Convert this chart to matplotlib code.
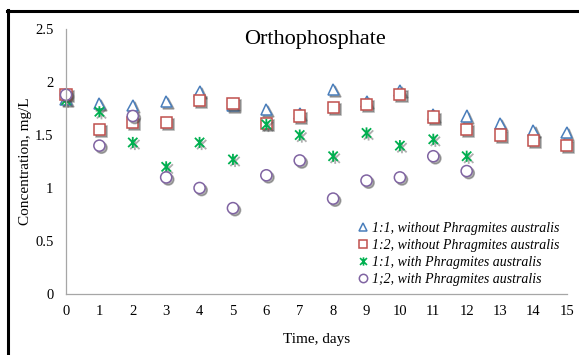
import numpy as np
import matplotlib
matplotlib.use('Agg')
import matplotlib.pyplot as plt
import matplotlib.patheffects as pe
from matplotlib.path import Path
from matplotlib.lines import Line2D

##Data
days = np.arange(0, 16)
tri_11_without = [1.84, 1.80, 1.78, 1.82, 1.91, 1.78, 1.74, 1.70, 1.93, 1.82, 1.92, 1.69, 1.68, 1.61, 1.54, 1.52]
sq_12_without = [1.88, 1.55, 1.62, 1.62, 1.83, 1.80, 1.61, 1.68, 1.76, 1.79, 1.88, 1.67, 1.55, 1.50, 1.45, 1.40]
days_with = np.arange(0, 13)
ast_11_with = [1.83, 1.72, 1.43, 1.20, 1.43, 1.27, 1.60, 1.50, 1.30, 1.52, 1.40, 1.46, 1.30]
circ_12_with = [1.88, 1.40, 1.68, 1.10, 1.00, 0.81, 1.12, 1.26, 0.90, 1.07, 1.10, 1.30, 1.16]

labels = ['1:1, without Phragmites australis',
          '1:2, without Phragmites australis',
          '1:1, with Phragmites australis',
          '1;2, with Phragmites australis']

plt.rcParams['font.family'] = ['Liberation Serif', 'DejaVu Serif']

#Asterisk marker: X with a vertical bar
ast = Path([(-1, -1), (1, 1), (-1, 1), (1, -1), (0, -1.2), (0, 1.2)],
           [Path.MOVETO, Path.LINETO, Path.MOVETO, Path.LINETO, Path.MOVETO, Path.LINETO])

shadow = [pe.SimplePatchShadow(offset=(1.5, -1.5), shadow_rgbFace='0.3', alpha=0.45),
          pe.SimpleLineShadow(offset=(1.5, -1.5), shadow_color='0.3', alpha=0.45),
          pe.Normal()]

fig = plt.figure(figsize=(5.79, 3.55), dpi=100)
ax = fig.add_axes([0.114, 0.172, 0.865, 0.746])

blue = '#4a7ebb'
red = '#c0504d'
green = '#00b050'
purple = '#8064a2'

ax.plot(days, tri_11_without, ls='none', marker='^', ms=8, mfc='white', mec=blue, mew=1.1,
        path_effects=shadow, label=labels[0])
ax.plot(days, sq_12_without, ls='none', marker='s', ms=8, mfc='white', mec=red, mew=1.1,
        path_effects=shadow, label=labels[1])
ax.plot(days_with, ast_11_with, ls='none', marker=ast, ms=8, color=green, mew=1.3,
        path_effects=shadow, label=labels[2])
ax.plot(days_with, circ_12_with, ls='none', marker='o', ms=8, mfc='white', mec=purple, mew=1.1,
        path_effects=shadow, label=labels[3])

ax.set_xlim(0, 15)
ax.set_ylim(0, 2.5)
ax.set_xticks(np.arange(0, 16))
ax.set_yticks([0, 0.5, 1, 1.5, 2, 2.5])
ax.set_yticklabels(['0', '0.5', '1', '1.5', '2', '2.5'])
ax.tick_params(length=0, labelsize=10.5)
ax.tick_params(axis='x', pad=8)
ax.tick_params(axis='y', pad=9)
for s in ['top', 'right']:
    ax.spines[s].set_visible(False)
for s in ['left', 'bottom']:
    ax.spines[s].set_color('#a6a6a6')
    ax.spines[s].set_linewidth(0.9)
for l in ax.lines:
    l.set_clip_on(False)

ax.text(7.45, 2.4, 'Orthophosphate', ha='center', va='center', fontsize=16)
ax.set_xlabel('Time, days', fontsize=11, labelpad=11)
ax.set_ylabel('Concentration, mg/L', fontsize=11, labelpad=2)

handles = [Line2D([], [], ls='none', marker='^', ms=6, mfc='white', mec=blue, mew=1.1),
           Line2D([], [], ls='none', marker='s', ms=6, mfc='white', mec=red, mew=1.1),
           Line2D([], [], ls='none', marker=ast, ms=6, color=green, mew=1.2),
           Line2D([], [], ls='none', marker='o', ms=6, mfc='white', mec=purple, mew=1.1)]
leg = ax.legend(handles, labels, loc='lower right', bbox_to_anchor=(1.0, 0.0), frameon=False,
                prop={'style': 'italic', 'size': 10}, handlelength=0.6, handletextpad=0.3,
                labelspacing=0.3, borderaxespad=0.15)

#Frame around the figure (left and top edges visible)
fig.add_artist(Line2D([0.014, 0.014], [0.0, 0.972], color='black', lw=2.2, transform=fig.transFigure))
fig.add_artist(Line2D([0.012, 1.0], [0.970, 0.970], color='black', lw=2.2, transform=fig.transFigure))

fig.savefig('out.png', dpi=100)
